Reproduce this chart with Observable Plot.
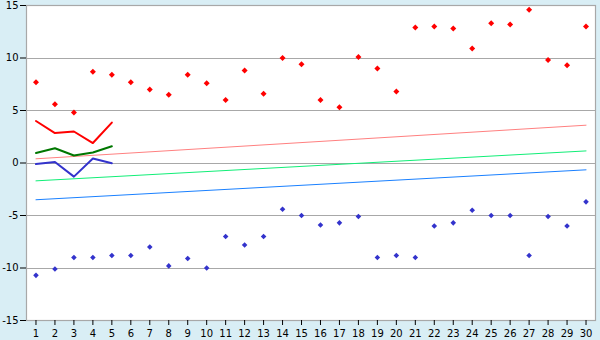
<!DOCTYPE html>
<html>
<head>
<meta charset="utf-8">
<script src="https://cdn.jsdelivr.net/npm/d3@7"></script>
<script src="https://cdn.jsdelivr.net/npm/@observablehq/plot@0.6"></script>
<style>
  html, body { margin: 0; padding: 0; background: #d9eef5; }
  #chart svg { display: block; }
</style>
</head>
<body>
<div id="chart"></div>
<script>
const days = d3.range(1, 31);
const maxTemps = [7.7, 5.6, 4.8, 8.7, 8.4, 7.7, 7.0, 6.5, 8.4, 7.6,
                  6.0, 8.8, 6.6, 10.0, 9.4, 6.0, 5.3, 10.1, 9.0, 6.8,
                  12.9, 13.0, 12.8, 10.9, 13.3, 13.2, 14.6, 9.8, 9.3, 13.0];
const minTemps = [-10.7, -10.1, -9.0, -9.0, -8.8, -8.8, -8.0, -9.8, -9.1, -10.0,
                  -7.0, -7.8, -7.0, -4.4, -5.0, -5.9, -5.7, -5.1, -9.0, -8.8,
                  -9.0, -6.0, -5.7, -4.5, -5.0, -5.0, -8.8, -5.1, -6.0, -3.7];
const lineDays = [1, 2, 3, 4, 5];
const lineMax = [4.0, 2.85, 3.0, 1.9, 3.85];
const lineMean = [0.95, 1.4, 0.72, 1.0, 1.6];
const lineMin = [-0.1, 0.1, -1.3, 0.42, -0.02];
const trendDays = [1, 30];
const trendMax = [0.4, 3.6];
const trendMean = [-1.7, 1.15];
const trendMin = [-3.5, -0.65];
const yTicks = [-15, -10, -5, 0, 5, 10, 15];

const pts = (xs, ys) => xs.map((x, i) => ({x, y: ys[i]}));

const chart = Plot.plot({
  width: 600,
  height: 340,
  marginLeft: 26,
  marginRight: 5,
  marginTop: 5,
  marginBottom: 20,
  style: {background: "transparent", fontFamily: "DejaVu Sans, sans-serif", fontSize: "10px", color: "#000"},
  x: {type: "linear", domain: [0.5, 30.5], label: null},
  y: {domain: [-15, 15], label: null},
  marks: [
    Plot.frame({fill: "white", stroke: "none"}),
    Plot.ruleY(yTicks, {stroke: "#a8a8a8", strokeWidth: 1, shapeRendering: "crispEdges"}),
    Plot.frame({stroke: "#a8a8a8", strokeWidth: 1.2}),
    Plot.axisX({ticks: days, tickFormat: d => String(d), tickSize: 5, tickPadding: 4, stroke: "#000", label: null}),
    Plot.axisY({ticks: yTicks, tickFormat: d => String(d), tickSize: 6, tickPadding: 2, stroke: "#000", label: null}),
    Plot.line(pts(trendDays, trendMax), {x: "x", y: "y", stroke: "#ff8080", strokeWidth: 1}),
    Plot.line(pts(trendDays, trendMean), {x: "x", y: "y", stroke: "#11ee77", strokeWidth: 1}),
    Plot.line(pts(trendDays, trendMin), {x: "x", y: "y", stroke: "#1a80ff", strokeWidth: 1}),
    Plot.line(pts(lineDays, lineMax), {x: "x", y: "y", stroke: "#ff0000", strokeWidth: 2}),
    Plot.line(pts(lineDays, lineMean), {x: "x", y: "y", stroke: "#007700", strokeWidth: 2}),
    Plot.line(pts(lineDays, lineMin), {x: "x", y: "y", stroke: "#3333cc", strokeWidth: 2}),
    Plot.dot(pts(days, maxTemps), {x: "x", y: "y", symbol: "diamond2", r: 2.7, fill: "#ff0000", stroke: "none"}),
    Plot.dot(pts(days, minTemps), {x: "x", y: "y", symbol: "diamond2", r: 2.5, fill: "#3333cc", stroke: "none"})
  ]
});
document.getElementById("chart").append(chart);
</script>
</body>
</html>
